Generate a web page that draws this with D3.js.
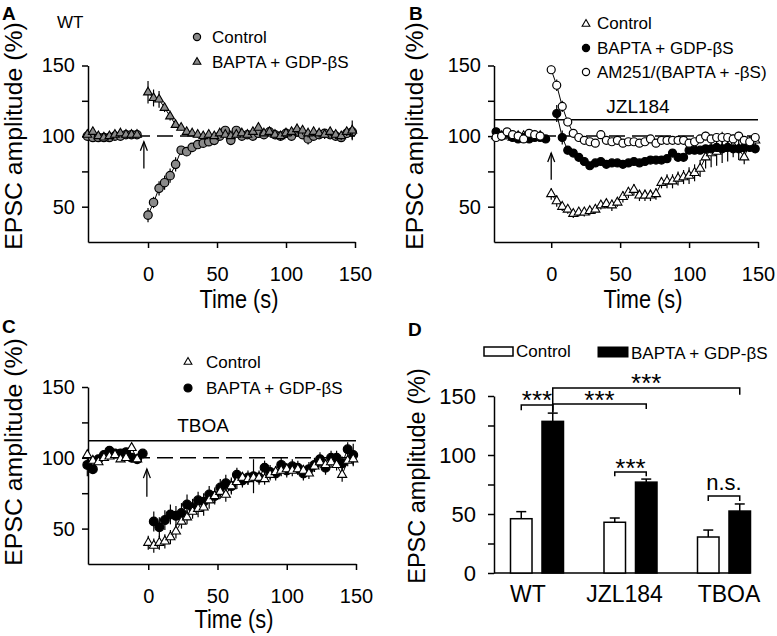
<!DOCTYPE html>
<html><head><meta charset="utf-8">
<script src="https://cdn.jsdelivr.net/npm/d3@7"></script>
<style>
body{margin:0;background:#fff}
text{font-family:"Liberation Sans",Arial,Helvetica,sans-serif;fill:#000}
</style>
</head><body>
<svg id="c" width="777" height="636"></svg>
<script>
// ---------------- DATA ----------------
const timeBase   = [-44,-40,-36,-32,-28,-24,-20,-16,-12,-8];
const timeBaseL  = [-44,-40,-36,-32,-28,-24,-20,-16,-12,-8,-4];
const timeBaseB  = [-40,-36,-32,-28,-24,-20,-16,-12,-8,-4];
const timeBaseB9 = [-40,-36,-32,-28,-24,-20,-16,-12,-8];
const timePost   = [0,4,8,12,16,20,24,28,32,36,40,44,48,52,56,60,64,68,72,76,80,84,88,92,96,100,104,108,112,116,120,124,128,132,136,140,144,148];
const timePost4  = [4,8,12,16,20,24,28,32,36,40,44,48,52,56,60,64,68,72,76,80,84,88,92,96,100,104,108,112,116,120,124,128,132,136,140,144,148];

const xTickValues = [0,50,100,150];
const yTickValues = [50,75,100,125,150];
const yTickLabels = [50,100,150];

// Panel A (WT)
const aCtrlBase    = [100,99,99,99,99,100,100,101,101,101];
const aCtrlPost    = [44,53,63,67,72,80,90,89,92,94,95,96,97,100,104,97,104,100,101,100,102,101,103,101,100,102,100,103,101,98,100,101,102,101,100,99,102,103];
const aCtrlPostErr = [5,4,5,5,5,5,3,2,2,2,2,2,2,2,2,2,2,2,2,2,2,2,2,2,2,2,3,3,3,4,3,3,3,3,3,3,3,5];
const aBapBase     = [101,103,100,99,100,101,102,101,101,101];
const aBapPost     = [131,127,126,120,114,108,106,103,102,101,100,101,100,102,101,100,101,102,101,103,106,102,103,101,100,102,103,105,104,102,103,102,101,103,101,100,103,104];
const aBapPostErr  = [8,6,6,3,3,2,2,2,2,2,2,2,2,2,2,2,2,2,2,2,2,2,2,2,3,3,3,3,3,3,3,3,3,3,3,3,3,7];

// Panel B (JZL184)
const bCtrlBase    = [100,100,100,99,100,100,100,100,100];
const bCtrlPost    = [59,54,50,48,45,46,46,47,48,51,52,51,53,57,60,62,58,58,58,59,67,68,68,70,71,72,74,77,85,88,89,91,92,93,91,85,95,97];
const bCtrlPostErr = [4,4,3,3,3,3,3,3,3,3,3,4,3,4,4,4,4,4,4,4,4,5,5,5,5,6,6,6,8,10,10,10,10,8,8,5,5,4];
const bBapBase     = [103,100,102,99,98,99,98,99,99,98];
const bBapPost     = [116,99,90,88,85,82,79,81,82,80,81,81,80,81,82,81,82,83,83,83,84,88,85,85,90,90,90,91,91,92,91,92,91,91,92,92,91];
const bBapPostErr  = [6,5,3,2,2,2,2,2,2,2,2,2,2,2,2,2,2,2,2,2,2,2,2,2,2,2,2,2,2,2,2,2,2,2,2,2,3];
const bAmBase      = [99,100,103,101,100,98,102,101,100];
const bAmPost      = [147,136,121,110,102,99,97,96,95,101,97,96,97,95,96,96,95,96,98,95,97,97,97,97,97,95,96,98,100,98,99,99,99,98,100,97,96,99];
const bAmPostErr   = [3,4,4,3,2,2,2,2,2,2,2,2,2,2,2,2,2,2,2,2,2,2,2,2,2,2,2,2,3,3,3,4,3,3,3,3,3,3];

// Panel C (TBOA)
const cCtrlBase    = [102,98,97,100,101,102,99,100,107,99];
const cCtrlPost    = [40,38,40,41,44,48,55,58,62,64,65,70,73,76,74,80,83,86,85,86,86,85,88,90,91,92,91,92,91,89,94,97,95,97,95,88,98,99];
const cCtrlPostErr = [5,5,5,5,5,5,5,5,5,6,6,6,5,5,5,5,5,4,4,4,4,4,4,4,4,4,4,4,4,4,4,4,4,4,4,5,4,4];
const cBapBase     = [95,92,99,102,105,103,103,104,100,99,103];
const cBapBaseErr  = [8,3,3,3,3,3,3,3,3,3,2];
const cBapPost     = [55,51,56,60,59,61,67,65,70,69,74,73,79,82,80,88,84,86,87,86,93,90,89,95,91,94,93,89,92,95,99,93,100,100,96,106,102];
const cBapPostErr  = [7,7,7,7,7,7,7,6,6,6,6,6,6,6,6,5,5,5,12,5,5,5,5,5,5,5,5,5,5,5,5,5,5,5,5,5,8];

// Panel D (summary bars)
const catsD      = ["WT","JZL184","TBOA"];
const groupsD    = ["Control","BAPTA + GDP-βS"];
const ctrlD      = [46,43,30.5];
const ctrlErrD   = [6,3.6,5.9];
const baptaD     = [128.5,77,52.5];
const baptaErrD  = [7,2.6,6];
const yTicksD    = [0,25,50,75,100,125,150];
const yLabelsD   = [0,50,100,150];

// ---------------- DRAWING ----------------
const svg = d3.select("#c");
const FONT = '"Liberation Sans",Arial,Helvetica,sans-serif';

function pts(t, v, e){ return t.map((tt,i)=>({t:tt, v:v[i], e: e ? e[i] : 1.5})); }

function styleAxis(sel, fs){
  sel.selectAll("path.domain").attr("stroke","#000").attr("stroke-width",1.5);
  sel.selectAll(".tick line").attr("stroke","#000").attr("stroke-width",1.5);
  sel.selectAll(".tick text").attr("font-size",fs).attr("font-family",FONT).attr("fill","#000");
}

function drawMarkers(g, xy, shape, fill, size){
  if (shape === "circle"){
    g.selectAll(null).data(xy).enter().append("circle")
      .attr("cx",d=>d[0]).attr("cy",d=>d[1]).attr("r",size)
      .attr("fill",fill).attr("stroke","#000").attr("stroke-width",1.2);
  } else {
    const sym = d3.symbol(d3.symbolTriangle, size);
    g.selectAll(null).data(xy).enter().append("path")
      .attr("d",sym).attr("transform",d=>`translate(${d[0]},${d[1]})`)
      .attr("fill",fill).attr("stroke","#000").attr("stroke-width",1.1);
  }
}

function drawTimePanel(cfg){
  const g = svg.append("g");
  const x = d3.scaleLinear().domain(cfg.xDomain).range(cfg.xRange);
  const y = d3.scaleLinear().domain([25,150]).range(cfg.yRange);

  const ya = d3.axisLeft(y).tickValues(yTickValues)
    .tickFormat(d => yTickLabels.includes(d) ? d : "")
    .tickSize(6).tickSizeOuter(0).tickPadding(7);
  g.append("g").attr("transform",`translate(${cfg.xRange[0]},0)`).call(ya).call(s=>styleAxis(s,20));

  const xa = d3.axisBottom(x).tickValues(xTickValues).tickSize(6).tickSizeOuter(0).tickPadding(19);
  g.append("g").attr("transform",`translate(0,${cfg.yRange[0]})`).call(xa).call(s=>styleAxis(s,20));

  // reference lines
  g.append("line").attr("x1",x.range()[0]).attr("x2",x.range()[1])
    .attr("y1",y(100)).attr("y2",y(100))
    .attr("stroke","#000").attr("stroke-width",1.5).attr("stroke-dasharray","16,7");
  if (cfg.hline){
    g.append("line").attr("x1",x.range()[0]).attr("x2",x.range()[1])
      .attr("y1",y(cfg.hline.v)).attr("y2",y(cfg.hline.v))
      .attr("stroke","#000").attr("stroke-width",1.5);
    g.append("text").attr("x",cfg.hline.lx).attr("y",cfg.hline.ly)
      .attr("text-anchor","middle").attr("font-size",19).text(cfg.hline.label);
  }
  // arrow
  const ax = x(cfg.arrow.t), ay0 = y(cfg.arrow.from), ay1 = y(cfg.arrow.to);
  g.append("line").attr("x1",ax).attr("x2",ax).attr("y1",ay0).attr("y2",ay1).attr("stroke","#000").attr("stroke-width",1.3);
  g.append("path").attr("d",`M${ax-3.5},${ay1+9}L${ax},${ay1}L${ax+3.5},${ay1+9}`)
    .attr("fill","none").attr("stroke","#000").attr("stroke-width",1.3);

  const line = d3.line().x(d=>x(d.t)).y(d=>y(d.v));
  cfg.series.forEach(s=>{
    const sg = g.append("g");
    [s.base, s.post].forEach(seg=>{
      sg.append("path").attr("d",line(seg)).attr("fill","none").attr("stroke","#000").attr("stroke-width",1);
      sg.selectAll(null).data(seg).enter().append("line")
        .attr("x1",d=>x(d.t)).attr("x2",d=>x(d.t))
        .attr("y1",d=>y(d.v-d.e)).attr("y2",d=>y(d.v+d.e))
        .attr("stroke","#000").attr("stroke-width",1.2);
    });
    const all = s.base.concat(s.post);
    drawMarkers(sg, all.map(d=>[x(d.t), y(d.v)]), s.shape, s.fill, s.size);
  });

  // legend
  cfg.legend.forEach(l=>{
    drawMarkers(g, [[l.mx,l.my]], l.shape, l.fill, l.size);
    g.append("text").attr("x",l.tx).attr("y",l.ty).attr("font-size",17).text(l.label);
  });

  // titles
  g.append("text").attr("transform",`translate(${cfg.yTitle[0]},${cfg.yTitle[1]}) rotate(-90)`)
    .attr("text-anchor","middle").attr("font-size",24.8).text("EPSC amplitude (%)");
  g.append("text").attr("transform",`translate(${cfg.xTitle[0]},${cfg.xTitle[1]}) scale(0.87,1)`)
    .attr("text-anchor","middle").attr("font-size",25).text("Time (s)");
  g.append("text").attr("x",cfg.letter[0]).attr("y",cfg.letter[1]).attr("font-size",19)
    .attr("font-weight","bold").text(cfg.letter[2]);
  if (cfg.tag) g.append("text").attr("x",cfg.tag[0]).attr("y",cfg.tag[1]).attr("font-size",17).text(cfg.tag[2]);
}

const GREY = "#8a8a8a";

// Panel A
drawTimePanel({
  xDomain:[-43.5,150], xRange:[88,355], yRange:[242,65.5],
  arrow:{t:-3, from:77, to:96},
  series:[
    {base:pts(timeBase,aCtrlBase), post:pts(timePost,aCtrlPost,aCtrlPostErr), shape:"circle", fill:GREY, size:4.2},
    {base:pts(timeBase,aBapBase), post:pts(timePost,aBapPost,aBapPostErr), shape:"tri", fill:GREY, size:34}
  ],
  legend:[
    {mx:197,my:37,shape:"circle",fill:GREY,size:3.6,tx:212,ty:43,label:"Control"},
    {mx:197,my:62,shape:"tri",fill:GREY,size:26,tx:212,ty:68,label:"BAPTA + GDP-βS"}
  ],
  yTitle:[22,136], xTitle:[239,308], letter:[2,20,"A"], tag:[57,28,"WT"]
});

// Panel B
drawTimePanel({
  xDomain:[-41.5,150], xRange:[494,758], yRange:[242,65.5],
  arrow:{t:0, from:69, to:88},
  hline:{v:111.6, label:"JZL184", lx:638, ly:113},
  series:[
    {base:pts(timeBaseB9,bCtrlBase), post:pts(timePost,bCtrlPost,bCtrlPostErr), shape:"tri", fill:"#fff", size:36},
    {base:pts(timeBaseB,bBapBase), post:pts(timePost4,bBapPost,bBapPostErr), shape:"circle", fill:"#000", size:4},
    {base:pts(timeBaseB9,bAmBase), post:pts(timePost,bAmPost,bAmPostErr), shape:"circle", fill:"#fff", size:4}
  ],
  legend:[
    {mx:586,my:24,shape:"tri",fill:"#fff",size:26,tx:597,ty:29,label:"Control"},
    {mx:586,my:48,shape:"circle",fill:"#000",size:3.6,tx:597,ty:54,label:"BAPTA + GDP-βS"},
    {mx:586,my:72,shape:"circle",fill:"#fff",size:3.6,tx:597,ty:78,label:"AM251/(BAPTA + -βS)"}
  ],
  yTitle:[423,136], xTitle:[643,308], letter:[409,20,"B"]
});

// Panel C
drawTimePanel({
  xDomain:[-43.5,150], xRange:[88,356], yRange:[564,387],
  arrow:{t:-1, from:72.5, to:92},
  hline:{v:112, label:"TBOA", lx:203, ly:432},
  series:[
    {base:pts(timeBaseL,cBapBase,cBapBaseErr), post:pts(timePost4,cBapPost,cBapPostErr), shape:"circle", fill:"#000", size:4.4},
    {base:pts(timeBase,cCtrlBase), post:pts(timePost,cCtrlPost,cCtrlPostErr), shape:"tri", fill:"#fff", size:36}
  ],
  legend:[
    {mx:188,my:362,shape:"tri",fill:"#fff",size:26,tx:206,ty:368,label:"Control"},
    {mx:188,my:388,shape:"circle",fill:"#000",size:4,tx:206,ty:394,label:"BAPTA + GDP-βS"}
  ],
  yTitle:[22,452], xTitle:[234,628], letter:[2,333,"C"]
});

// Panel D
(function(){
  const g = svg.append("g");
  const y = d3.scaleLinear().domain([0,150]).range([573,396]);
  const x0 = d3.scaleBand().domain(catsD).range([490.25,770.75]).paddingInner(0).paddingOuter(0);
  const x1 = d3.scaleBand().domain(groupsD).range([20.25,73.25]).paddingInner(0.317).paddingOuter(0);
  const bw = x1.bandwidth();
  const cx = (ci, gi) => x0(catsD[ci]) + x1(groupsD[gi]) + bw/2;

  const ya = d3.axisLeft(y).tickValues(yTicksD).tickFormat(d=>yLabelsD.includes(d)?d:"")
    .tickSize(6).tickSizeOuter(0).tickPadding(12);
  g.append("g").attr("transform","translate(494,0)").call(ya).call(s=>styleAxis(s,22));

  const xEnd = x0(catsD[2]) + x1(groupsD[1]) + bw;
  g.append("line").attr("x1",494).attr("x2",xEnd).attr("y1",y(0)).attr("y2",y(0))
    .attr("stroke","#000").attr("stroke-width",1.5);

  const series = [{v:ctrlD,e:ctrlErrD,fill:"#fff"},{v:baptaD,e:baptaErrD,fill:"#000"}];
  series.forEach((s,gi)=>{
    catsD.forEach((c,ci)=>{
      const xl = x0(c) + x1(groupsD[gi]);
      const top = y(s.v[ci]), et = y(s.v[ci]+s.e[ci]);
      g.append("line").attr("x1",xl+bw/2).attr("x2",xl+bw/2).attr("y1",top).attr("y2",et)
        .attr("stroke","#000").attr("stroke-width",1.5);
      g.append("line").attr("x1",xl+bw/2-5).attr("x2",xl+bw/2+5).attr("y1",et).attr("y2",et)
        .attr("stroke","#000").attr("stroke-width",1.5);
      g.append("rect").attr("x",xl).attr("y",top).attr("width",bw).attr("height",y(0)-top)
        .attr("fill",s.fill).attr("stroke","#000").attr("stroke-width",1.5);
    });
  });

  // category labels
  const nudge = [-9,-6,5];
  catsD.forEach((c,ci)=>{
    g.append("text").attr("x",x0(c)+x0.bandwidth()/2+nudge[ci]).attr("y",602)
      .attr("text-anchor","middle").attr("font-size",23).text(c);
  });

  // significance brackets
  const brackets = [
    {a:[0,0], b:[0,1], top:142.4, la:138, lb:138, label:"***", ly:409, fs:26},
    {a:[0,1], b:[1,1], top:143.2, la:136, lb:139, label:"***", ly:409, fs:26},
    {a:[0,1], b:[2,1], top:156.8, la:136, lb:151, label:"***", ly:392, fs:26},
    {a:[1,0], b:[1,1], top:85.6, la:82, lb:82, label:"***", ly:477, fs:26},
    {a:[2,0], b:[2,1], top:65.3, la:61, lb:61, label:"n.s.", ly:490, fs:22}
  ];
  brackets.forEach(b=>{
    const xa = cx(b.a[0],b.a[1]), xb = cx(b.b[0],b.b[1]);
    g.append("path").attr("d",`M${xa},${y(b.la)}V${y(b.top)}H${xb}V${y(b.lb)}`)
      .attr("fill","none").attr("stroke","#000").attr("stroke-width",1.5);
    g.append("text").attr("x",(xa+xb)/2).attr("y",b.ly).attr("text-anchor","middle")
      .attr("font-size",b.fs).text(b.label);
  });

  // legend
  g.append("rect").attr("x",484).attr("y",347).attr("width",29).attr("height",9)
    .attr("fill","#fff").attr("stroke","#000").attr("stroke-width",1.5);
  g.append("text").attr("x",516).attr("y",357).attr("font-size",17).text(groupsD[0]);
  g.append("rect").attr("x",598).attr("y",347).attr("width",30).attr("height",10)
    .attr("fill","#000").attr("stroke","#000").attr("stroke-width",1);
  g.append("text").attr("x",631).attr("y",359).attr("font-size",17).text(groupsD[1]);

  g.append("text").attr("transform","translate(425,476) rotate(-90)")
    .attr("text-anchor","middle").attr("font-size",23.5).text("EPSC amplitude (%)");
  g.append("text").attr("x",408).attr("y",336).attr("font-size",19).attr("font-weight","bold").text("D");
})();
</script>
</body></html>
